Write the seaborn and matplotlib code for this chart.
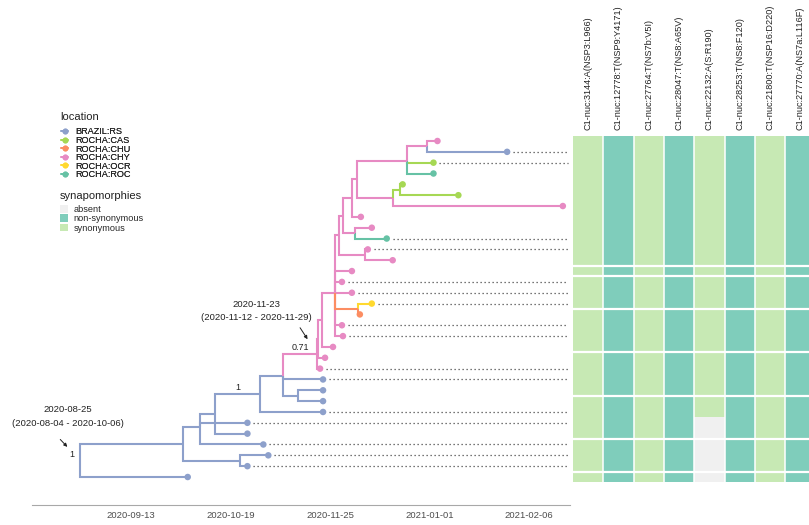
import numpy as np
import pandas as pd
import matplotlib
matplotlib.use("Agg")
import matplotlib.pyplot as plt
from matplotlib.colors import ListedColormap
from matplotlib.lines import Line2D
from matplotlib.patches import Patch
import seaborn as sns

# ---------------- tree data ----------------
# tips, listed top to bottom
tip_ids = [f"t{i}" for i in range(1, 33)]
tip_location = [
    "ROCHA:CHY", "BRAZIL:RS", "ROCHA:CAS", "ROCHA:ROC", "ROCHA:CAS", "ROCHA:CAS",
    "ROCHA:CHY", "ROCHA:CHY", "ROCHA:CHY", "ROCHA:ROC", "ROCHA:CHY", "ROCHA:CHY",
    "ROCHA:CHY", "ROCHA:CHY", "ROCHA:CHY", "ROCHA:OCR", "ROCHA:CHU", "ROCHA:CHY",
    "ROCHA:CHY", "ROCHA:CHY", "ROCHA:CHY", "ROCHA:CHY", "BRAZIL:RS", "BRAZIL:RS",
    "BRAZIL:RS", "BRAZIL:RS", "BRAZIL:RS", "BRAZIL:RS", "BRAZIL:RS", "BRAZIL:RS",
    "BRAZIL:RS", "BRAZIL:RS",
]
tip_date = [
    2021.008, 2021.078, 2021.004, 2021.004, 2020.973, 2021.029, 2021.134, 2020.931,
    2020.942, 2020.957, 2020.938, 2020.963, 2020.922, 2020.912, 2020.922, 2020.942,
    2020.930, 2020.912, 2020.913, 2020.903, 2020.895, 2020.890, 2020.893, 2020.893,
    2020.893, 2020.893, 2020.817, 2020.817, 2020.833, 2020.838, 2020.817, 2020.757,
]
tip_parent = [
    "Qa", "Qa", "Q1", "Q1", "Q3", "Q3", "Q2", "P5", "P7", "P7", "P8", "P8",
    "P2", "P2", "P2", "O1", "O1", "P2", "P2", "P1", "X1", "P0", "N8", "N9",
    "N9", "N5", "N2", "N4", "N2", "N3", "N3", "R",
]
# dotted guide from the tip to the synapomorphy panel
tip_guide = [
    False, True, True, False, False, False, False, False, False, True, True, False,
    False, True, True, True, False, True, True, False, False, True, True, False,
    False, True, True, False, True, True, True, False,
]

# internal nodes
node_ids = ["R", "N1", "N2", "N3", "N4", "N5", "N8", "N9", "P0", "X1", "P1", "P2",
            "O1", "P3", "P4", "P5", "P6", "Q1", "Qa", "Q2", "Q3", "P7", "P8"]
node_parent = [None, "R", "N1", "N1", "N2", "N4", "N5", "N8", "N8", "P0", "X1", "P1",
               "P2", "P2", "P3", "P4", "P5", "P6", "Q1", "P6", "Q2", "P4", "P3"]
node_date = [2020.649, 2020.752, 2020.769, 2020.810, 2020.784, 2020.830, 2020.853,
             2020.868, 2020.887, 2020.888, 2020.892, 2020.905, 2020.928, 2020.909,
             2020.913, 2020.922, 2020.927, 2020.977, 2020.997, 2020.963, 2020.970,
             2020.925, 2020.935]
node_location = ["BRAZIL:RS"] * 8 + [
    "ROCHA:CHY", "ROCHA:CHY", "ROCHA:CHY", "ROCHA:CHY", "ROCHA:CHU", "ROCHA:CHY",
    "ROCHA:CHY", "ROCHA:CHY", "ROCHA:CHY", "ROCHA:CHY", "ROCHA:CHY", "ROCHA:CHY",
    "ROCHA:CAS", "ROCHA:CHY", "ROCHA:CHY"]

# posterior support shown on selected nodes
support_node = ["R", "N5", "P0"]
support_value = ["1", "1", "0.71"]

# node age annotations (median and 95% HPD)
age_node = ["R", "P0"]
age_text = ["2020-08-25\n(2020-08-04 - 2020-10-06)",
            "2020-11-23\n(2020-11-12 - 2020-11-29)"]

# time axis (decimal years) and their calendar labels
time_ticks = [2020.7, 2020.8, 2020.9, 2021.0, 2021.1]
time_labels = ["2020-09-13", "2020-10-19", "2020-11-25", "2021-01-01", "2021-02-06"]

locations = ["BRAZIL:RS", "ROCHA:CAS", "ROCHA:CHU", "ROCHA:CHY", "ROCHA:OCR", "ROCHA:ROC"]
location_colors = ["#8da0cb", "#a6d854", "#fc8d62", "#e78ac3", "#ffd92f", "#66c2a5"]

# ---------------- synapomorphy data ----------------
snp_labels = [
    "C1-nuc:3144:A(NSP3:L966)",
    "C1-nuc:12778:T(NSP9:Y4171)",
    "C1-nuc:27764:T(NS7b:V5I)",
    "C1-nuc:28047:T(NS8:A65V)",
    "C1-nuc:22132:A(S:R190)",
    "C1-nuc:28253:T(NS8:F120)",
    "C1-nuc:21800:T(NSP16:D220)",
    "C1-nuc:27770:A(NS7a:L116F)",
]
snp_type = ["synonymous", "non-synonymous", "synonymous", "non-synonymous",
            "synonymous", "non-synonymous", "synonymous", "non-synonymous"]
absent_snp = "C1-nuc:22132:A(S:R190)"
absent_tips = ["t27", "t28", "t29", "t30", "t31", "t32"]
# sequence group of each row in the panel
row_group = [1] * 12 + [2] + [3] * 3 + [4] * 4 + [5] * 4 + [6] * 4 + [7] * 3 + [8]

syn_states = ["absent", "non-synonymous", "synonymous"]
syn_colors = ["#f0f0f0", "#7fcdbb", "#c7e9b4"]

# ---------------- layout of the tree ----------------
ids = tip_ids + node_ids
parent = dict(zip(ids, tip_parent + node_parent))
date = dict(zip(ids, tip_date + node_date))
loc = dict(zip(ids, tip_location + node_location))
children = {}
for c, p in parent.items():
    if p is not None:
        children.setdefault(p, []).append(c)
ypos = {t: i + 1 for i, t in enumerate(tip_ids)}


def node_y(n):
    if n not in ypos:
        ypos[n] = float(np.mean([node_y(c) for c in children[n]]))
    return ypos[n]


for n in node_ids:
    node_y(n)

# ---------------- figure ----------------
sns.set_theme(style="white")
plt.rcParams["font.family"] = ["Liberation Sans", "DejaVu Sans"]
color_of = dict(zip(locations, location_colors))

W, H = 809, 525
fig = plt.figure(figsize=(W / 100, H / 100), dpi=100)


def fig_box(x0, y0, x1, y1):
    return [x0 / W, 1 - y1 / H, (x1 - x0) / W, (y1 - y0) / H]


ax = fig.add_axes(fig_box(32, 95, 570, 505))
ax.set_facecolor("none")

# edges drawn as elbows, coloured by the child state
for c, p in parent.items():
    if p is None:
        continue
    ax.plot([date[p], date[p], date[c]], [ypos[p], ypos[c], ypos[c]],
            color=color_of[loc[c]], lw=1.5, solid_joinstyle="miter",
            solid_capstyle="butt", zorder=2)

guide_end = 2021.139
for t, g in zip(tip_ids, tip_guide):
    if g:
        ax.plot([date[t] + 0.006, guide_end], [ypos[t], ypos[t]], color="#4a4a4a",
                lw=0.9, ls=(0, (1, 2.2)), zorder=1)

tips_df = pd.DataFrame({"date": tip_date, "row": [ypos[t] for t in tip_ids],
                        "location": tip_location})
sns.scatterplot(data=tips_df, x="date", y="row", hue="location", hue_order=locations,
                palette=color_of, s=22, linewidth=0, legend=False, ax=ax, zorder=3)

for n, v in zip(support_node, support_value):
    if parent[n] is None:
        ax.annotate(v, (date[n], ypos[n]), xytext=(-6, 1), textcoords="offset points",
                    ha="center", va="bottom", fontsize=6.5, color="#222222")
    else:
        xm = (date[n] + date[parent[n]]) / 2
        ax.annotate(v, (xm, ypos[n]), xytext=(0, 1.5), textcoords="offset points",
                    ha="center", va="bottom", fontsize=6.5, color="#222222")

text_offsets = [(-12, 44), (-61, 43)]
arrow_starts = [(-20, 21), (-17, 26)]
arrow_shrink = [13.5, 12.5]
for n, txt, to, ast, sh in zip(age_node, age_text, text_offsets, arrow_starts, arrow_shrink):
    ax.annotate(txt, (date[n], ypos[n]), xytext=to, textcoords="offset pixels",
                ha="center", va="center", fontsize=6.8, color="#222222",
                linespacing=1.6)
    ax.annotate("", (date[n], ypos[n]), xytext=ast, textcoords="offset pixels",
                arrowprops=dict(arrowstyle="-|>", color="#222222", lw=0.7,
                                mutation_scale=5, shrinkA=0, shrinkB=sh))

ax.set_xlim(2020.6005, 2021.1412)
tip_px = 10.839
ax.set_ylim(1 + (505 - 141) / tip_px, 1 - (141 - 95) / tip_px)
ax.set_xticks(time_ticks)
ax.set_xticklabels(time_labels)
ax.set_yticks([])
ax.set_xlabel("")
ax.set_ylabel("")
for s in ["left", "right", "top"]:
    ax.spines[s].set_visible(False)
ax.spines["bottom"].set_color("#a8a8a8")
ax.spines["bottom"].set_linewidth(0.8)
ax.tick_params(axis="x", length=0, pad=4, labelsize=6.8, labelcolor="#4d4d4d")

# ---------------- synapomorphy panel ----------------
codes = pd.DataFrame({lab: [syn_states.index(tp)] * len(tip_ids)
                      for lab, tp in zip(snp_labels, snp_type)}, index=tip_ids)
codes.loc[absent_tips, absent_snp] = syn_states.index("absent")

axh = fig.add_axes(fig_box(573, 141 - tip_px / 2, 573 + 8 * 30.3, 477 + tip_px / 2))
sns.heatmap(codes, cmap=ListedColormap(syn_colors), vmin=-0.5, vmax=2.5, cbar=False,
            xticklabels=snp_labels, yticklabels=False, linewidths=0, ax=axh)
for j in range(1, len(snp_labels)):
    axh.axvline(j, color="white", lw=1.1)
for i in range(1, len(row_group)):
    if row_group[i] != row_group[i - 1]:
        axh.axhline(i, color="white", lw=1.6)
axh.xaxis.tick_top()
axh.set_xticklabels(snp_labels, rotation=90, fontsize=6.6, color="#222222")
axh.tick_params(axis="x", length=0, pad=4)
axh.set_xlabel("")
axh.set_ylabel("")

# ---------------- legends ----------------
fig.text(60 / W, 1 - 117 / H, "location", fontsize=8, va="center", ha="left",
         color="#222222")
fig.text(60 / W, 1 - 196 / H, "synapomorphies", fontsize=8, va="center", ha="left",
         color="#222222")

loc_handles = [Line2D([0], [0], color=c, lw=1.2, marker="o", ms=3.2)
               for c in location_colors]
leg1 = fig.legend(loc_handles, locations, loc="upper left",
                  bbox_to_anchor=(61 / W, 1 - 127.5 / H), frameon=False, fontsize=6.6,
                  handlelength=0.8, handletextpad=0.7,
                  labelspacing=-0.05, borderpad=0, borderaxespad=0)
syn_handles = [Patch(facecolor=c, edgecolor="none") for c in syn_colors]
leg2 = fig.legend(syn_handles, syn_states, loc="upper left",
                  bbox_to_anchor=(60 / W, 1 - 205 / H), frameon=False, fontsize=6.6,
                  handlelength=0.9, handleheight=0.9,
                  handletextpad=0.55, labelspacing=0.04, borderpad=0,
                  borderaxespad=0)
fig.add_artist(leg1)

fig.savefig("out.png", dpi=100, facecolor="white")
